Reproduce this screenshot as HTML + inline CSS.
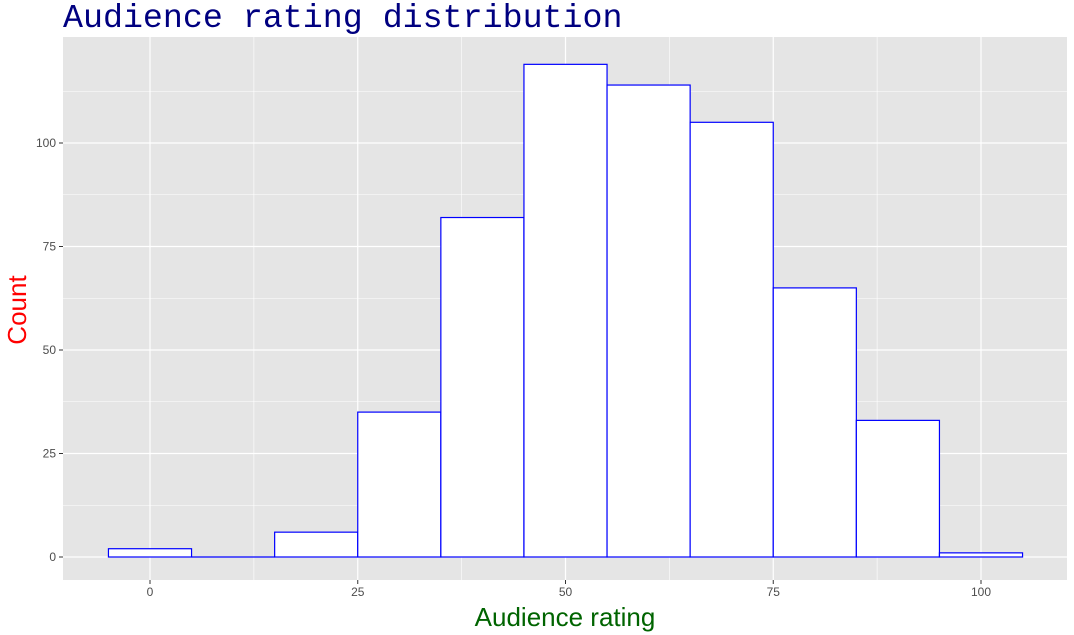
<!DOCTYPE html>
<html><head><meta charset="utf-8"><style>
body{margin:0;background:#fff;}
svg{display:block;}
</style></head><body>
<svg id="chart" width="1074" height="635" xmlns="http://www.w3.org/2000/svg">
<rect x="63" y="37" width="1004" height="543" fill="#e5e5e5"/>
<g id="grid"></g>
<g id="bars"></g>
<g id="ticks"></g>
<text x="63" y="27" font-family="Liberation Mono, monospace" font-size="33.3" fill="#000080">Audience rating distribution</text>
<text transform="translate(26,310) rotate(-90)" text-anchor="middle" font-family="Liberation Sans, sans-serif" font-size="26" fill="#ff0000">Count</text>
<text x="565" y="626" text-anchor="middle" font-family="Liberation Sans, sans-serif" font-size="26" fill="#006400">Audience rating</text>
</svg>
<script>
const binCenters=[0,10,20,30,40,50,60,70,80,90,100];
const counts=[2,0,6,35,82,119,114,105,65,33,1];
const xTicks=[0,25,50,75,100];
const yTicks=[0,25,50,75,100];
const NS='http://www.w3.org/2000/svg';
const xs=v=>150+v*8.31;
const ys=v=>557-v*4.14;
const L=63,R=1067,T=37,B=580;
function mk(t,a,p){const e=document.createElementNS(NS,t);for(const k in a)e.setAttribute(k,a[k]);p.appendChild(e);return e;}
const g=document.getElementById('grid');
for(let v=-12.5;v<=112.5;v+=25){const x=xs(v);if(x>L&&x<R){const l=mk('line',{x1:x,x2:x,y1:T,y2:B,stroke:'#fff','stroke-width':0.6},g);}}
for(let v=12.5;v<=112.5;v+=25){const y=ys(v);if(y>T){const l=mk('line',{x1:L,x2:R,y1:y,y2:y,stroke:'#fff','stroke-width':0.6},g);}}
const tk=document.getElementById('ticks');
xTicks.forEach(v=>{const x=xs(v);
const l=mk('line',{x1:x,x2:x,y1:T,y2:B,stroke:'#fff','stroke-width':1.2},g);

const m=mk('line',{x1:x,x2:x,y1:B,y2:B+4,stroke:'#333','stroke-width':1},tk);

const t=mk('text',{x:x,y:B+16,'text-anchor':'middle','font-family':'Liberation Sans, sans-serif','font-size':12,fill:'#4d4d4d'},tk);t.textContent=v;
});
yTicks.forEach(v=>{const y=ys(v);
const l=mk('line',{x1:L,x2:R,y1:y,y2:y,stroke:'#fff','stroke-width':1.2},g);

const m=mk('line',{x1:L-4,x2:L,y1:y,y2:y,stroke:'#333','stroke-width':1},tk);

const t=mk('text',{x:L-7,y:y+4,'text-anchor':'end','font-family':'Liberation Sans, sans-serif','font-size':12,fill:'#4d4d4d'},tk);t.textContent=v;
});
const bg=document.getElementById('bars');
binCenters.forEach((c,i)=>{const x0=xs(c-5),x1=xs(c+5),y=ys(counts[i]);
if(counts[i]===0){
const z=mk('line',{x1:x0,x2:x1,y1:y,y2:y,stroke:'#0000ff','stroke-width':1.2},bg);

return;}
const r=mk('rect',{x:x0,y:y,width:x1-x0,height:ys(0)-y,fill:'#fff',stroke:'#0000ff','stroke-width':1.2},bg);
});
</script>
</body></html>
